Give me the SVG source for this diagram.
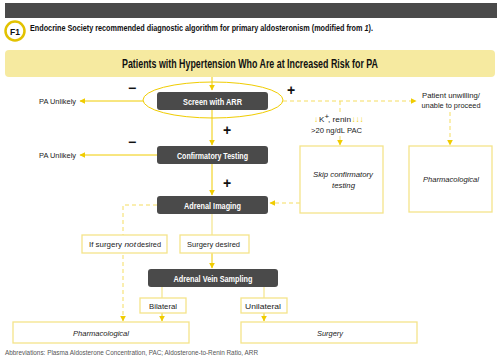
<svg xmlns="http://www.w3.org/2000/svg" width="500" height="364" viewBox="0 0 500 364">
<defs>
<marker id="ah" viewBox="0 0 10 10" refX="9" refY="5" markerWidth="6" markerHeight="6" markerUnits="userSpaceOnUse" orient="auto">
<path d="M0,0 L10,5 L0,10 z" fill="#f0cc00"/>
</marker>
<style>
text{font-family:"Liberation Sans",Arial,sans-serif;}
.dark{fill:#4a4a4a;}
.dt{fill:#fff;font-size:9px;font-weight:bold;text-anchor:middle;}
.box{fill:#fff;stroke:#f4e48a;stroke-width:1.3;}
.t{fill:#222;font-size:8px;text-anchor:middle;}
.s{fill:#222;font-size:8px;}
.it{font-style:italic;}
.y{fill:#f0cc00;}
.ln{fill:none;stroke:#f0cc00;stroke-width:1;}
.pl{fill:none;stroke:#f4e48a;stroke-width:1.2;}
.ds{stroke-dasharray:4,3;stroke:#f5dd60;}
.sg{fill:#111;font-size:14px;font-weight:bold;text-anchor:middle;}
</style>
</defs>
<rect x="0" y="0" width="500" height="364" fill="#fff"/>
<rect x="5" y="3" width="492" height="15" fill="#4a4a4a"/>
<circle cx="15" cy="31" r="9.5" fill="#fff" stroke="#e2c200" stroke-width="2.5"/>
<text x="15" y="34.5" font-size="8.5" font-weight="bold" text-anchor="middle" fill="#111">F1</text>
<text transform="translate(30,31) scale(0.807,1)" x="0" y="0" font-size="9" font-weight="bold" fill="#111">Endocrine Society recommended diagnostic algorithm for primary aldosteronism (modified from <tspan font-style="italic">1</tspan>).</text>
<g id="banner">
<rect x="5" y="50" width="490" height="27" rx="4" fill="#f6eaa0"/>
<text x="250" y="68" font-size="12" font-weight="bold" text-anchor="middle" fill="#111" textLength="256" lengthAdjust="spacingAndGlyphs">Patients with Hypertension Who Are at Increased Risk for PA</text>
</g>
<g id="connectors">
<line class="ln" x1="212" y1="77" x2="212" y2="90" marker-end="url(#ah)"/>
<ellipse cx="213" cy="100" rx="70" ry="18" class="ln" stroke="#f3de6a"/>
<line class="ln" x1="143" y1="101" x2="80" y2="101" marker-end="url(#ah)"/>
<line class="ln" x1="157" y1="155" x2="80" y2="155" marker-end="url(#ah)"/>
<line class="ln" x1="212" y1="110" x2="212" y2="145" marker-end="url(#ah)"/>
<line class="ln" x1="212" y1="164" x2="212" y2="195" marker-end="url(#ah)"/>
<path class="ln ds" d="M283,101 H416" marker-end="url(#ah)"/>
<path class="ln ds" d="M340,101 V113"/>
<path class="ln ds" d="M340,136 V145" marker-end="url(#ah)"/>
<path class="ln ds" d="M450,112 V145" marker-end="url(#ah)"/>
<path class="ln ds" d="M300,203 H270" marker-end="url(#ah)"/>
<path class="ln ds" d="M157,205 H123 V321" marker-end="url(#ah)"/>
<line class="pl" x1="212" y1="214" x2="212" y2="235"/>
<line class="ln" x1="212" y1="253" x2="212" y2="268" marker-end="url(#ah)"/>
<line class="pl" x1="162" y1="287" x2="162" y2="298"/>
<line class="ln" x1="162" y1="313" x2="162" y2="321" marker-end="url(#ah)"/>
<line class="pl" x1="264" y1="287" x2="264" y2="298"/>
<line class="ln" x1="264" y1="313" x2="264" y2="321" marker-end="url(#ah)"/>
</g>
<text class="sg" x="132" y="93">−</text>
<text class="sg" x="132" y="147">−</text>
<text class="sg" x="291" y="95">+</text>
<text class="sg" x="227" y="135">+</text>
<text class="sg" x="227" y="188">+</text>
<text class="t" x="57.5" y="104" textLength="37" lengthAdjust="spacingAndGlyphs">PA Unlikely</text>
<text class="t" x="57.5" y="158" textLength="37" lengthAdjust="spacingAndGlyphs">PA Unlikely</text>
<g id="screen">
<rect class="dark" x="157" y="92" width="111" height="18" rx="3"/>
<text class="dt" x="212.5" y="104.5" textLength="59" lengthAdjust="spacingAndGlyphs">Screen with ARR</text>
</g>
<g id="confirm">
<rect class="dark" x="157" y="146" width="111" height="18" rx="3"/>
<text class="dt" x="212.5" y="158.5" textLength="71" lengthAdjust="spacingAndGlyphs">Confirmatory Testing</text>
</g>
<g id="imaging">
<rect class="dark" x="157" y="196" width="111" height="18" rx="3"/>
<text class="dt" x="212.5" y="208.5" textLength="57" lengthAdjust="spacingAndGlyphs">Adrenal Imaging</text>
</g>
<g id="avs">
<rect class="dark" x="148" y="269" width="130" height="18" rx="3"/>
<text class="dt" x="213" y="281.5" textLength="79" lengthAdjust="spacingAndGlyphs">Adrenal Vein Sampling</text>
</g>
<g id="unwilling">
<rect x="418" y="89" width="66" height="22" fill="#fff"/>
<text class="t" x="451" y="98" textLength="58" lengthAdjust="spacingAndGlyphs">Patient unwilling/</text>
<text class="t" x="451" y="108" textLength="59" lengthAdjust="spacingAndGlyphs">unable to proceed</text>
</g>
<g id="criteria">
<rect x="312" y="114" width="52" height="22" fill="#fff"/>
<text class="s y" x="314" y="122">↓</text>
<text class="s" x="319" y="122">K</text>
<text class="s" x="324.5" y="119" font-size="5">+</text>
<text class="s" x="328" y="122" textLength="23" lengthAdjust="spacingAndGlyphs">, renin</text>
<text class="s y" x="351.5" y="122" textLength="12" lengthAdjust="spacingAndGlyphs">↓↓↓</text>
<text class="t" x="336.5" y="133" textLength="51" lengthAdjust="spacingAndGlyphs">&gt;20 ng/dL PAC</text>
</g>
<g id="skip">
<rect class="box" x="300" y="146" width="83" height="67"/>
<text class="t it" x="343" y="177" textLength="60" lengthAdjust="spacingAndGlyphs">Skip confirmatory</text>
<text class="t it" x="343.5" y="188" textLength="23" lengthAdjust="spacingAndGlyphs">testing</text>
</g>
<g id="pharm-right">
<rect class="box" x="409" y="146" width="83" height="66"/>
<text class="t it" x="451" y="182" textLength="56" lengthAdjust="spacingAndGlyphs">Pharmacological</text>
</g>
<g id="not-desired">
<rect class="box" x="82" y="235" width="85" height="18"/>
<text class="s" x="89" y="247" textLength="33" lengthAdjust="spacingAndGlyphs">If surgery</text>
<text class="s it" x="124.5" y="247" textLength="11.5" lengthAdjust="spacingAndGlyphs">not</text>
<text class="s" x="137" y="247" textLength="24" lengthAdjust="spacingAndGlyphs">desired</text>
</g>
<g id="desired">
<rect class="box" x="180" y="235" width="69" height="18"/>
<text class="t" x="213.5" y="247" textLength="53" lengthAdjust="spacingAndGlyphs">Surgery desired</text>
</g>
<g id="bilateral">
<rect class="box" x="140" y="298" width="46" height="15"/>
<text class="t" x="163" y="308.5" textLength="28" lengthAdjust="spacingAndGlyphs">Bilateral</text>
</g>
<g id="unilateral">
<rect class="box" x="241" y="298" width="46" height="15"/>
<text class="t" x="263" y="308.5" textLength="36" lengthAdjust="spacingAndGlyphs">Unilateral</text>
</g>
<g id="pharm-bottom">
<rect class="box" x="13" y="322" width="176" height="21"/>
<text class="t it" x="101" y="336" textLength="56" lengthAdjust="spacingAndGlyphs">Pharmacological</text>
</g>
<g id="surgery">
<rect class="box" x="241" y="322" width="176" height="21"/>
<text class="t it" x="330" y="336" textLength="26" lengthAdjust="spacingAndGlyphs">Surgery</text>
</g>
<text x="5" y="355" font-size="7" fill="#555" textLength="253" lengthAdjust="spacingAndGlyphs">Abbreviations: Plasma Aldosterone Concentration, PAC; Aldosterone-to-Renin Ratio, ARR</text>
</svg>
